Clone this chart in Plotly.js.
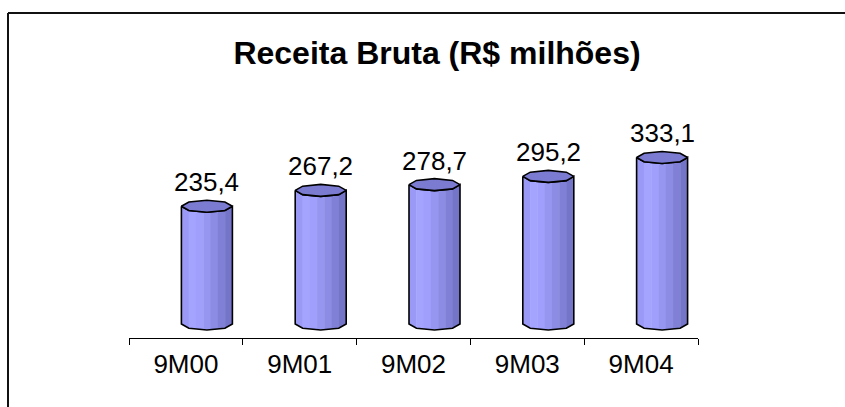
<!DOCTYPE html>
<html>
<head>
<meta charset="utf-8">
<script src="https://cdn.plot.ly/plotly-3.0.1.min.js"></script>
<style>html,body{margin:0;padding:0;background:#fff;} #chart{width:845px;height:407px;}</style>
</head>
<body>
<div id="chart"></div>
<script>
// ---- data ----
const categories = ['9M00', '9M01', '9M02', '9M03', '9M04'];
const values = [235.4, 267.2, 278.7, 295.2, 333.1];
const valueLabels = ['235,4', '267,2', '278,7', '295,2', '333,1'];
const titleText = 'Receita Bruta (R$ milhões)';

// ---- layout geometry ----
const W = 845, H = 407;
const M = {l: 129, r: 147, t: 69, b: 69};
const PW = W - M.l - M.r, PH = H - M.t - M.b;
const yRange = [-28, -28 + PH / 0.5];
const xRange = [-0.5, 4.5];
const pxPerCat = PW / (xRange[1] - xRange[0]);
const shiftX = 21 / pxPerCat;       // 3D depth offset of cylinders
const halfW = 25.5 / pxPerCat;      // cylinder half width (x units)
const capB = 6 * (yRange[1] - yRange[0]) / PH; // cap half height (y units)
const FONT = 'Arial, "Liberation Sans", Helvetica, sans-serif';

const stripColors = ['#9a9af6', '#a4a4ff', '#a0a0fc', '#9696f0', '#8c8ce4', '#8080d6', '#7474c8'];

function octPts(cx, cy, startDeg, endDeg) {
  const pts = [];
  const step = startDeg <= endDeg ? 45 : -45;
  for (let d = startDeg; step > 0 ? d <= endDeg : d >= endDeg; d += step) {
    const r = d * Math.PI / 180;
    pts.push([cx + halfW * Math.cos(r), cy + capB * Math.sin(r)]);
  }
  return pts;
}
// lower boundary of the bottom cap
function lowerY(cx, x) {
  const pts = octPts(cx, 0, 180, 360);
  for (let i = 0; i < pts.length - 1; i++) {
    const [x0, y0] = pts[i], [x1, y1] = pts[i + 1];
    if (x >= x0 - 1e-9 && x <= x1 + 1e-9) {
      const t = (x1 - x0) === 0 ? 0 : (x - x0) / (x1 - x0);
      return y0 + t * (y1 - y0);
    }
  }
  return 0;
}

const traces = [];
// invisible trace to establish category axis
traces.push({type: 'scatter', x: categories, y: values, mode: 'markers',
  marker: {opacity: 0}, hoverinfo: 'skip', showlegend: false, xaxis: 'x', yaxis: 'y'});

const annotations = [];
values.forEach((v, i) => {
  const cx = i + shiftX;
  const n = stripColors.length;
  for (let s = 0; s < n; s++) {
    const x0 = cx - halfW + (2 * halfW) * s / n;
    const x1 = cx - halfW + (2 * halfW) * (s + 1) / n + (s < n - 1 ? 0.004 : 0);
    const xs = [x0], ys = [v];
    for (let k = 0; k <= 6; k++) {
      const xx = x0 + (x1 - x0) * k / 6;
      xs.push(xx); ys.push(lowerY(cx, Math.min(xx, cx + halfW)));
    }
    xs.push(x1); ys.push(v);
    traces.push({type: 'scatter', x: xs, y: ys, mode: 'lines', fill: 'toself',
      fillcolor: stripColors[s], line: {width: 0, color: stripColors[s]},
      hoverinfo: 'skip', showlegend: false, xaxis: 'x2', yaxis: 'y'});
  }
  const bx = [], by = [];
  bx.push(cx - halfW); by.push(v);
  octPts(cx, 0, 180, 360).forEach(p => { bx.push(p[0]); by.push(p[1]); });
  octPts(cx, v, 360, 180).forEach(p => { bx.push(p[0]); by.push(p[1]); });
  traces.push({type: 'scatter', x: bx, y: by, mode: 'lines',
    line: {width: 1.6, color: '#000'}, hoverinfo: 'skip', showlegend: false, xaxis: 'x2', yaxis: 'y'});
  const cap = octPts(cx, v, 0, 360);
  traces.push({type: 'scatter', x: cap.map(p => p[0]), y: cap.map(p => p[1]), mode: 'lines',
    fill: 'toself', fillcolor: '#7b7bd2', line: {width: 1.6, color: '#000'},
    hoverinfo: 'skip', showlegend: false, xaxis: 'x2', yaxis: 'y'});
  annotations.push({xref: 'x2', yref: 'y', x: cx, y: v, text: valueLabels[i],
    showarrow: false, yanchor: 'bottom', xanchor: 'center', yshift: 7,
    font: {family: FONT, size: 26, color: '#000'}});
});

function px2paperX(px) { return (px - M.l) / PW; }
function px2paperY(py) { return (H - M.b - py) / PH; }

const layout = {
  width: W, height: H,
  margin: M,
  paper_bgcolor: '#fff', plot_bgcolor: 'rgba(0,0,0,0)',
  showlegend: false,
  title: {text: titleText, x: 437 / W, xref: 'container', xanchor: 'center',
    y: 1 - 53 / H, yref: 'container', yanchor: 'middle',
    font: {family: FONT, size: 32, weight: 'bold', color: '#000'}},
  xaxis: {type: 'category', range: xRange, tickson: 'boundaries', ticks: 'outside',
    ticklen: 6, tickwidth: 1, tickcolor: '#000', showline: true, linecolor: '#000', linewidth: 1,
    showgrid: false, zeroline: false, fixedrange: true, ticklabelstandoff: 3,
    tickfont: {family: FONT, size: 26, color: '#000'}},
  xaxis2: {type: 'linear', range: xRange, overlaying: 'x', visible: false, fixedrange: true},
  yaxis: {range: yRange, visible: false, fixedrange: true, showgrid: false, zeroline: false},
  annotations: annotations,
  shapes: [
    {type: 'line', xref: 'paper', yref: 'paper', x0: px2paperX(8), x1: px2paperX(W + 5),
      y0: px2paperY(13), y1: px2paperY(13), line: {color: '#111', width: 2}},
    {type: 'line', xref: 'paper', yref: 'paper', x0: px2paperX(8), x1: px2paperX(8),
      y0: px2paperY(13), y1: px2paperY(H + 5), line: {color: '#111', width: 2}}
  ]
};

Plotly.newPlot('chart', traces, layout, {displayModeBar: false, staticPlot: true});
</script>
</body>
</html>
